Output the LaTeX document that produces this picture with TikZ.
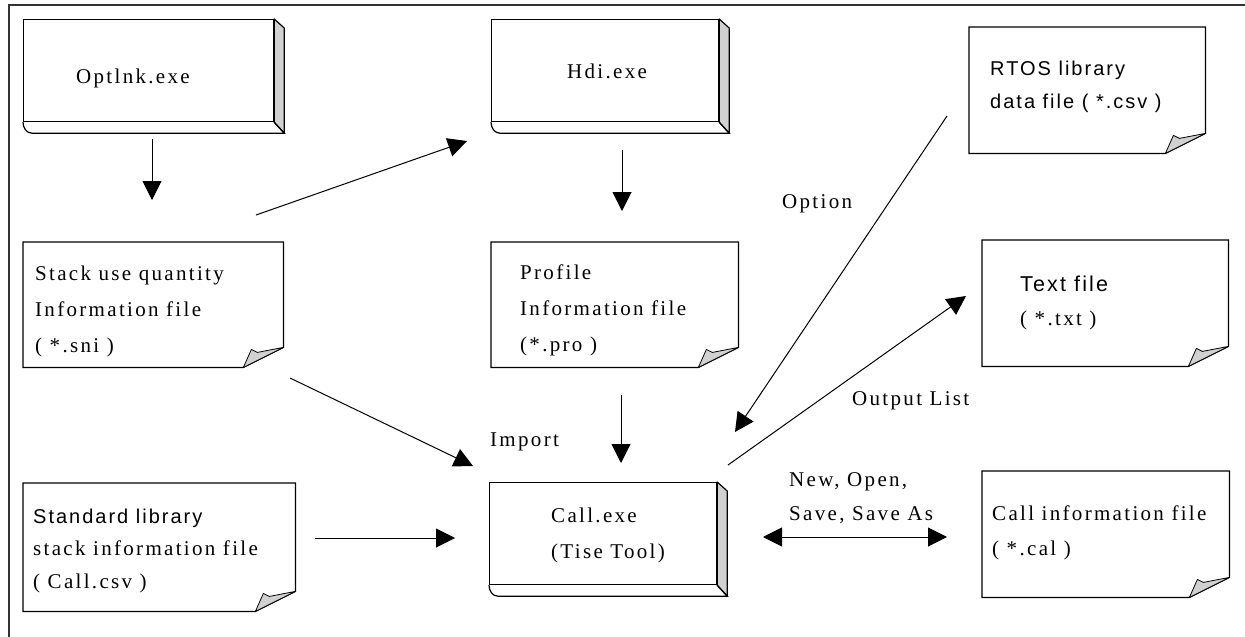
\documentclass[tikz,border=0pt]{standalone}
\usepackage{fontspec}
\setmainfont{Liberation Serif}
\newfontfamily\docserif{Liberation Serif}[LetterSpace=11]
\newfontfamily\docsans{Liberation Sans}[LetterSpace=10]
\usetikzlibrary{arrows.meta,calc}

\tikzset{
  outline/.style={draw=black, line width=1.2pt, line join=miter},
  frontface/.style={draw=black, line width=1.2pt, inner sep=0pt, anchor=north west},
  filearea/.style={inner sep=0pt, anchor=north west},
  sideface/.style={fill=black!18, draw=black, line width=1.2pt, line join=round},
  curl/.style={fill=black!18, draw=black, line width=0.8pt, line join=round},
  txt/.style={anchor=base west, inner sep=0pt, align=left,
    font=\docserif\fontsize{21}{36}\selectfont},
  sanstxt/.style={anchor=base west, inner sep=0pt,
    font=\docsans\fontsize{20}{32}\selectfont},
  arr/.style={line width=1pt, -{Triangle[length=19pt,width=19pt]}},
  dblarr/.style={line width=1pt, {Triangle[length=19pt,width=19pt]}-{Triangle[length=19pt,width=19pt]}},
}

% executable: front face with a shaded right side and a thin base plate
\newcommand\exebox[5]{%
  \node[frontface, minimum width=#4pt, minimum height=#5pt] (#1) at (#2,#3) {};
  \draw[sideface] (#1.north east) -- ($(#1.north east)+(10,9)$)
    -- ($(#1.south east)+(10,11)$) -- (#1.south east) -- cycle;
  \draw[outline] (#1.south east) -- ($(#1.south east)+(10,11)$)
    -- ($(#1.south west)+(9,11)$) to[out=180,in=-90] (#1.south west);
}

% data file: sheet with a curled bottom-right corner
\newcommand\docfile[5]{%
  \node[filearea, minimum width=#4pt, minimum height=#5pt] (#1) at (#2,#3) {};
  \draw[outline] (#1.north west) -- (#1.north east) -- ($(#1.south east)+(0,-20)$)
    -- ($(#1.south east)+(-40,0)$) -- (#1.south west) -- cycle;
  \draw[curl] ($(#1.south east)+(-40,0)$) -- ($(#1.south east)+(-32,-18)$)
    -- ($(#1.south east)+(-26,-15)$) -- ($(#1.south east)+(0,-20)$) -- cycle;
}

\begin{document}
\begin{tikzpicture}[x=1pt, y=-1pt]
\useasboundingbox (0,0) rectangle (1245,637);

% page frame
\draw[line width=1.6pt, black!80] (9,637) -- (9,5) -- (1245,5);

% executables
\exebox{optlnk}{23}{19}{250}{102}
\exebox{hdi}{491}{19}{227}{102}
\exebox{callexe}{489}{482}{227}{102}

% data files
\docfile{sni}{23}{242}{260}{125}
\docfile{pro}{491}{242}{247}{125}
\docfile{stdlib}{23}{483}{272}{128}
\docfile{rtos}{969}{27}{236}{126}
\docfile{txtfile}{982}{240}{246}{126}
\docfile{cal}{982}{471}{247}{126}

% texts (multi-line nodes sit on the baseline of their last line)
\node[txt] (optlnktext) at (76,83) {Optlnk.exe};
\node[txt] (hditext) at (567,78) {Hdi.exe};
\node[txt] (calltext) at (551,558) {Call.exe\\(Tise Tool)};
\node[txt] (snitext) at (35,352) {Stack use quantity\\Information file\\( *.sni )};
\node[txt] (protext) at (520,351) {Profile\\Information file\\(*.pro )};
\node[sanstxt] (stdtext1) at (33,523) {Standard library};
\node[txt, font=\docserif\fontsize{21}{33}\selectfont] (stdtext2) at (33,588) {stack information file\\( Call.csv )};
\node[sanstxt] (rtostext) at (990,75) {RTOS library};
\node[sanstxt] (rtostext2) at (990,108) {data file ( *.csv )};
\node[sanstxt, font=\docsans\fontsize{21.5}{32}\selectfont] (txttext1) at (1020,291) {Text file};
\node[txt] (txttext2) at (1020,325) {( *.txt )};
\node[txt, font=\docserif\fontsize{21}{35}\selectfont] (caltext) at (992,555) {Call information file\\( *.cal )};

% connector end points
\coordinate (a1s) at (152,139);  \coordinate (a1e) at (152,200);
\coordinate (a2s) at (256,215);  \coordinate (a2e) at (467,141);
\coordinate (a3s) at (622,150);  \coordinate (a3e) at (622,211);
\coordinate (a4s) at (621,395);  \coordinate (a4e) at (621,463);
\coordinate (a5s) at (290,378);  \coordinate (a5e) at (473,466);
\coordinate (a6s) at (315,538);  \coordinate (a6e) at (455,538);
\coordinate (a7s) at (947,116);  \coordinate (a7e) at (735,432);
\coordinate (a8s) at (728,465);  \coordinate (a8e) at (966,296);
\coordinate (a9s) at (763,537);  \coordinate (a9e) at (947,537);

% connectors
\draw[arr] (a1s) -- (a1e);
\draw[arr] (a2s) -- (a2e);
\draw[arr] (a3s) -- (a3e);
\draw[arr] (a4s) -- (a4e);
\draw[arr] (a5s) -- (a5e);
\draw[arr] (a6s) -- (a6e);
\draw[arr] (a7s) -- (a7e);
\draw[arr] (a8s) -- (a8e);
\draw[dblarr] (a9s) -- (a9e);

% connector labels
\node[txt] (optionlbl) at (782,208) {Option};
\node[txt] (outputlbl) at (852,405) {Output List};
\node[txt] (importlbl) at (490,446) {Import};
\node[txt, font=\docserif\fontsize{21}{34}\selectfont] (filelbl) at (789,520) {New, Open,\\Save, Save As};
\end{tikzpicture}
\end{document}
